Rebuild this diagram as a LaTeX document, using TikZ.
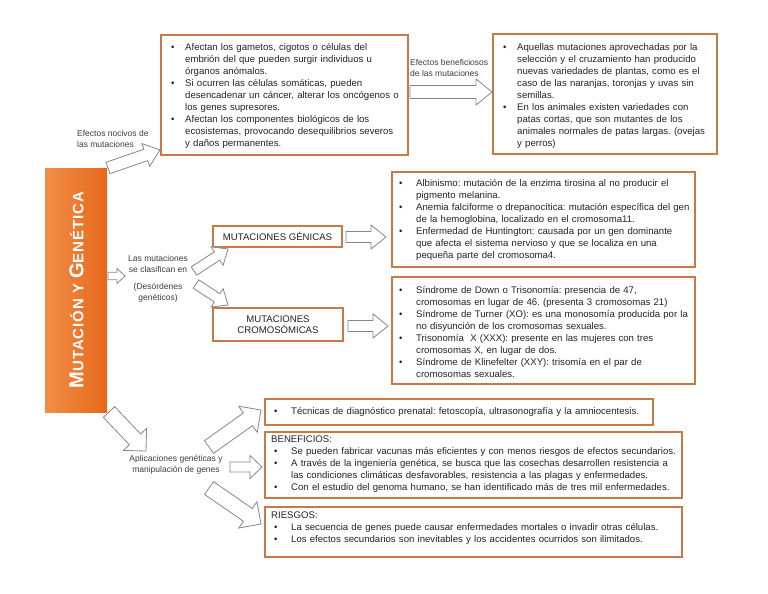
\documentclass[tikz,border=0pt]{standalone}
\usepackage{fontspec}
\setmainfont{Liberation Sans}
\usetikzlibrary{calc}
\definecolor{boxc}{RGB}{200,122,70}
\definecolor{arrc}{RGB}{135,135,135}
\definecolor{txtc}{RGB}{35,35,35}
\definecolor{lblc}{RGB}{60,60,60}
\definecolor{orL}{RGB}{242,142,72}
\definecolor{orR}{RGB}{230,104,26}
\frenchspacing
\newlength{\bw}
\newcommand{\bi}[2][14pt]{\par\setlength{\bw}{#1}\hangindent=\bw\hangafter=1\noindent\makebox[\bw][l]{\strut\textbullet}#2\par}
\newcommand{\barrow}[5]{%
\draw[blk] ($(#1)!#3!90:(#2)$)
 -- ($($(#2)!#5!(#1)$)!#3!-90:(#1)$)
 -- ($($(#2)!#5!(#1)$)!#4!-90:(#1)$)
 -- (#2)
 -- ($($(#2)!#5!(#1)$)!#4!90:(#1)$)
 -- ($($(#2)!#5!(#1)$)!#3!90:(#1)$)
 -- ($(#1)!#3!-90:(#2)$) -- cycle;}
\tikzset{
  boxn/.style={draw=boxc, line width=1.1pt, inner sep=0pt, outer sep=0pt, anchor=north west, fill=white},
  txtn/.style={inner sep=0pt, anchor=north west, text width=440pt, align=left, text=txtc, font=\fontsize{9.6}{12}\selectfont},
  lbl/.style={inner sep=0pt, text=lblc, font=\fontsize{8.5}{11}\selectfont},
  blk/.style={draw=arrc, fill=white, line width=0.8pt, line join=miter},
}
\begin{document}
\begin{tikzpicture}[x=1pt,y=-1pt]
\useasboundingbox[fill=white] (0,0) rectangle (768,594);
% title bar
\node[inner sep=0pt, outer sep=0pt, anchor=north west, minimum width=62pt, minimum height=244pt, left color=orL, right color=orR] (bar) at (45,168) {};
\node[rotate=90, text=white, font=\bfseries, inner sep=0pt] (title) at (76.5,290)
 {\addfontfeatures{LetterSpace=6}\fontsize{20}{20}\selectfont M\fontsize{15}{15}\selectfont UTACIÓN Y \fontsize{20}{20}\selectfont G\fontsize{15}{15}\selectfont ENÉTICA};
% boxes
\node[boxn, minimum width=247pt, minimum height=120pt] (b1) at (161,35) {};
\node[boxn, minimum width=224pt, minimum height=120pt] (b2) at (493,34) {};
\node[boxn, minimum width=129pt, minimum height=21pt] (gen) at (213,226) {};
\node[boxn, minimum width=130pt, minimum height=33pt] (cro) at (213,308) {};
\node[boxn, minimum width=303pt, minimum height=95pt] (b3) at (392,172) {};
\node[boxn, minimum width=303pt, minimum height=107pt] (b4) at (392,277) {};
\node[boxn, minimum width=388pt, minimum height=26pt] (b5) at (265,399) {};
\node[boxn, minimum width=417pt, minimum height=66pt] (b6) at (265,432) {};
\node[boxn, minimum width=417pt, minimum height=50pt] (b7) at (265,507) {};
% box texts
\node[txtn] (t1) at (171,38) {%
\bi{Afectan los gametos, cigotos o células del\newline embrión del que pueden surgir individuos u\newline órganos anómalos.}
\bi{Si ocurren las células somáticas, pueden\newline desencadenar un cáncer, alterar los oncógenos o\newline los genes supresores.}
\bi{Afectan los componentes biológicos de los\newline ecosistemas, provocando desequilibrios severos\newline y daños permanentes.}};
\node[txtn] (t2) at (503,38) {%
\bi{Aquellas mutaciones aprovechadas por la\newline selección y el cruzamiento han producido\newline nuevas variedades de plantas, como es el\newline caso de las naranjas, toronjas y uvas sin\newline semillas.}
\bi{En los animales existen variedades con\newline patas cortas, que son mutantes de los\newline animales normales de patas largas. (ovejas\newline y perros)}};
\node[txtn] (t3) at (399,174) {%
\bi[17pt]{Albinismo: mutación de la enzima tirosina al no producir el\newline pigmento melanina.}
\bi[17pt]{Anemia falciforme o drepanocítica: mutación específica del gen\newline de la hemoglobina, localizado en el cromosoma11.}
\bi[17pt]{Enfermedad de Huntington: causada por un gen dominante\newline que afecta el sistema nervioso y que se localiza en una\newline pequeña parte del cromosoma4.}};
\node[txtn] (t4) at (399,281) {%
\bi[17pt]{Síndrome de Down o Trisonomía: presencia de 47,\newline cromosomas en lugar de 46. (presenta 3 cromosomas 21)}
\bi[17pt]{Síndrome de Turner (XO): es una monosomía producida por la\newline no disyunción de los cromosomas sexuales.}
\bi[17pt]{Trisonomía\ \ X (XXX): presente en las mujeres con tres\newline cromosomas X, en lugar de dos.}
\bi[17pt]{Síndrome de Klinefelter (XXY): trisomía en el par de\newline cromosomas sexuales.}};
\node[txtn] (t5) at (274,402) {%
\bi[17pt]{Técnicas de diagnóstico prenatal: fetoscopía, ultrasonografía y la amniocentesis.}};
\node[txtn] (t6) at (271,434) {%
\strut BENEFICIOS:\par\hspace*{3pt}\begin{minipage}[t]{430pt}\raggedright
\bi[17pt]{Se pueden fabricar vacunas más eficientes y con menos riesgos de efectos secundarios.}
\bi[17pt]{A través de la ingeniería genética, se busca que las cosechas desarrollen resistencia a\newline las condiciones climáticas desfavorables, resistencia a las plagas y enfermedades.}
\bi[17pt]{Con el estudio del genoma humano, se han identificado más de tres mil enfermedades.}\end{minipage}};
\node[txtn] (t7) at (271,510) {%
\strut RIESGOS:\par\hspace*{3pt}\begin{minipage}[t]{430pt}\raggedright
\bi[17pt]{La secuencia de genes puede causar enfermedades mortales o invadir otras células.}
\bi[17pt]{Los efectos secundarios son inevitables y los accidentes ocurridos son ilimitados.}\end{minipage}};
\node[font=\fontsize{9.6}{11.5}\selectfont, text=txtc, inner sep=0pt] (gt) at (gen.center) {MUTACIONES GÉNICAS};
\node[font=\fontsize{9.6}{11.5}\selectfont, text=txtc, inner sep=0pt, align=center] (ct) at (cro.center) {MUTACIONES\\CROMOSÓMICAS};
% labels
\node[lbl, anchor=west, align=left] (l1) at (77,138.5) {Efectos nocivos de\\las mutaciones};
\node[lbl, anchor=west, align=left] (l2) at (410,67.5) {Efectos beneficiosos\\de las mutaciones};
\node[lbl, align=center] (l3) at (158,263.5) {Las mutaciones\\se clasifican en};
\node[lbl, align=center] (l4) at (158,292.5) {(Desórdenes\\genéticos)};
\node[lbl, align=center] (l5) at (176,464.5) {Aplicaciones genéticas y\\manipulación de genes};
% arrow end points
\coordinate (a1s) at (108,168); \coordinate (a1e) at (160,150);
\coordinate (a2s) at (410,92);  \coordinate (a2e) at (492,92);
\coordinate (a3s) at (108,276); \coordinate (a3e) at (125,276);
\coordinate (a4s) at (194,271); \coordinate (a4e) at (228,249);
\coordinate (a5s) at (196,284); \coordinate (a5e) at (228,305);
\coordinate (a6s) at (346,237); \coordinate (a6e) at (386,237);
\coordinate (a7s) at (348,326); \coordinate (a7e) at (388,326);
\coordinate (a8s) at (109,412); \coordinate (a8e) at (146,451);
\coordinate (a9s) at (209,447); \coordinate (a9e) at (261,410);
\coordinate (a10s) at (230,467); \coordinate (a10e) at (262,467);
\coordinate (a11s) at (209,488); \coordinate (a11e) at (261,524);
\barrow{a1s}{a1e}{6pt}{12pt}{15pt}
\barrow{a2s}{a2e}{6.5pt}{13pt}{16pt}
\barrow{a3s}{a3e}{3.8pt}{7.5pt}{8pt}
\barrow{a4s}{a4e}{5pt}{11pt}{13pt}
\barrow{a5s}{a5e}{5pt}{11pt}{13pt}
\barrow{a6s}{a6e}{5.5pt}{12pt}{15pt}
\barrow{a7s}{a7e}{5.5pt}{12pt}{15pt}
\barrow{a8s}{a8e}{7.8pt}{16pt}{16pt}
\barrow{a9s}{a9e}{7.8pt}{16pt}{16pt}
\barrow{a10s}{a10e}{5pt}{11.5pt}{12pt}
\barrow{a11s}{a11e}{7.8pt}{16pt}{16pt}
\end{tikzpicture}
\end{document}
